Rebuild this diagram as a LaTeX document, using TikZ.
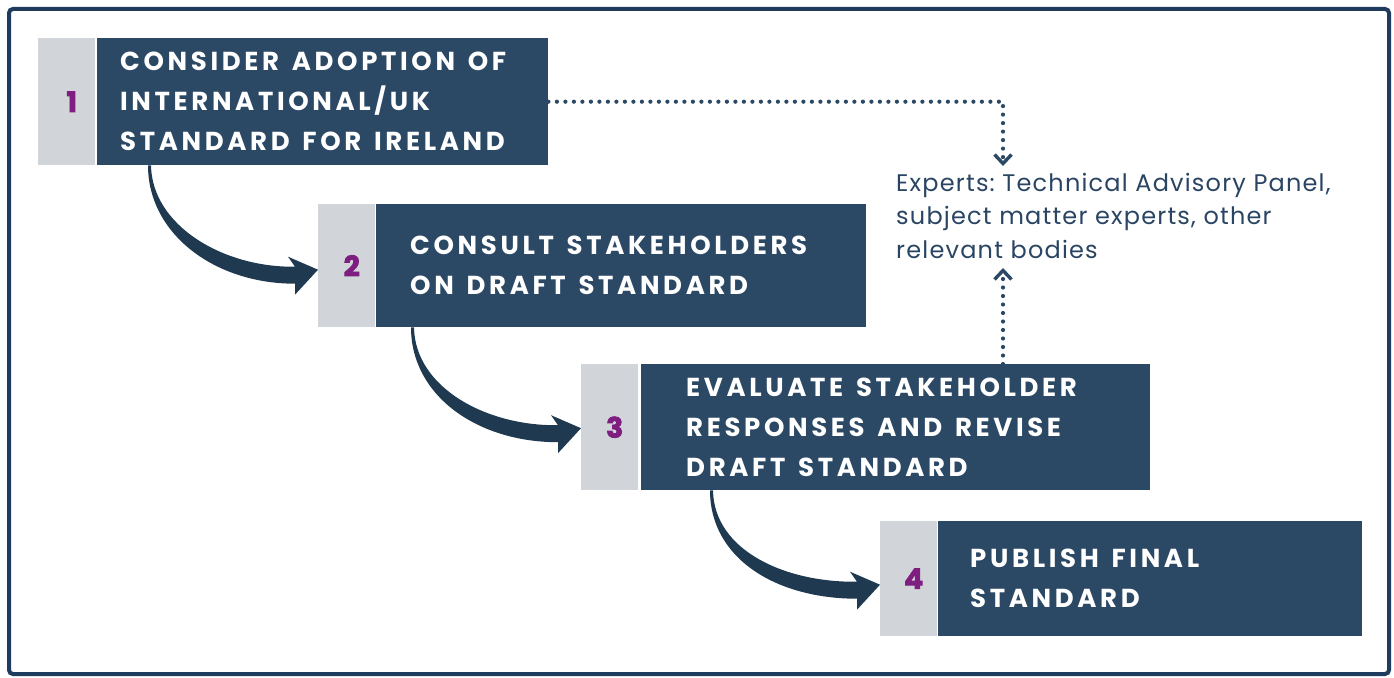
\documentclass[tikz,border=0pt]{standalone}
\usepackage{fontspec}
\setmainfont{Poppins}
\newfontfamily\headfont{Poppins}[LetterSpace=14,WordSpace=1.4]
\newfontfamily\numfont{Poppins}[BoldFeatures={FakeBold=3}]
\newfontfamily\bodyfont{Poppins}[LetterSpace=5]
\usetikzlibrary{arrows.meta,calc,positioning}
\definecolor{frameblue}{HTML}{1F3B5E}
\definecolor{boxblue}{HTML}{2B4865}
\definecolor{arrowblue}{HTML}{1F3A50}
\definecolor{numgrey}{HTML}{D1D5D9}
\definecolor{numpurple}{HTML}{7E1E80}
\definecolor{textblue}{HTML}{2A4563}

% tapered curved arrow: start, tip
\newcommand{\flowarrow}[2]{%
  \fill[arrowblue] ($(#1)+(-2,0)$) .. controls ($(#1)+(-2,68)$) and ($(#2)+(-104,14)$) .. ($(#2)+(-23,14)$)
    -- ($(#2)+(-23,25)$) -- (#2) -- ($(#2)+(-30,-13)$) -- ($(#2)+(-23,-3)$)
    .. controls ($(#2)+(-95,-2)$) and ($(#1)+(2,60)$) .. ($(#1)+(1,0)$) -- cycle;}

\tikzset{
  numbox/.style={fill=numgrey, minimum width=57pt, inner sep=0pt, anchor=north west,
    text=numpurple, font=\numfont\bfseries\fontsize{28}{30}\selectfont,
    execute at begin node=\hspace*{10pt}},
  stepbox/.style={fill=boxblue, inner sep=0pt, anchor=north west},
  steptext/.style={anchor=west, align=left, inner sep=0pt, text=white,
    font=\headfont\bfseries\fontsize{26}{40}\selectfont},
  dotline/.style={draw=boxblue, line width=4.2pt, dash pattern=on 0pt off 8.5pt, line cap=round},
  tip/.style={-{Straight Barb[length=9pt,width=17pt,line width=3.4pt]}}
}

\begin{document}
\begin{tikzpicture}[x=1pt,y=-1pt]
  \useasboundingbox (0,0) rectangle (1394,677);
  \draw[frameblue, line width=4pt, rounded corners=4pt] (9,9) rectangle (1389,674);

  % steps
  \node[numbox, minimum height=127pt] (g1) at (38,38) {1};
  \node[stepbox, minimum width=451pt, minimum height=127pt] (b1) at (97,38) {};
  \node[steptext] (t1) at ($(b1.west)+(23,0)$) {CONSIDER ADOPTION OF\\INTERNATIONAL/UK\\STANDARD FOR IRELAND};

  \node[numbox, minimum height=123pt] (g2) at (318,204) {2};
  \node[stepbox, minimum width=490pt, minimum height=123pt] (b2) at (376,204) {};
  \node[steptext] (t2) at ($(b2.west)+(34,0)$) {CONSULT STAKEHOLDERS\\ON DRAFT STANDARD};

  \node[numbox, minimum height=126pt] (g3) at (581,364) {3};
  \node[stepbox, minimum width=509pt, minimum height=126pt] (b3) at (641,364) {};
  \node[steptext] (t3) at ($(b3.west)+(45,0)$) {EVALUATE STAKEHOLDER\\RESPONSES AND REVISE\\DRAFT STANDARD};

  \node[numbox, minimum height=115pt] (g4) at (880,521) {4};
  \node[stepbox, minimum width=424pt, minimum height=115pt] (b4) at (938,521) {};
  \node[steptext] (t4) at ($(b4.west)+(32,0)$) {PUBLISH FINAL\\STANDARD};

  % experts
  \node[anchor=north west, align=left, inner sep=0pt, text=textblue,
    font=\bodyfont\frenchspacing\fontsize{24}{33.5}\selectfont] (ex) at (896,173)
    {Experts: Technical Advisory Panel,\\subject matter experts, other\\relevant bodies};
  \coordinate (exin) at (1003,166);
  \coordinate (exout) at (1003,268);
  \draw[dotline, tip] (b1.east) -| (exin);
  \draw[dotline, tip] (b3.north -| exout) -- (exout);

  % curved arrows
  \coordinate (s1) at ($(b1.south west)+(53,0)$);
  \coordinate (s2) at ($(b2.south west)+(37,0)$);
  \coordinate (s3) at ($(b3.south west)+(71,0)$);
  \flowarrow{s1}{$(g2.west)+(0,4)$}
  \flowarrow{s2}{$(g3.west)+(0,1)$}
  \flowarrow{s3}{$(g4.west)+(0,6)$}
\end{tikzpicture}
\end{document}
